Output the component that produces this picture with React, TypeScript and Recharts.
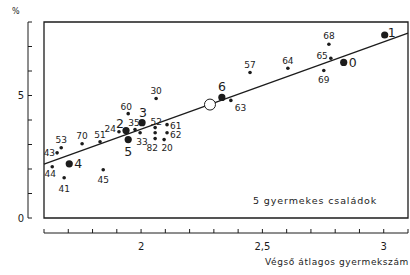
import React from "react";
import {
  ScatterChart,
  Scatter,
  XAxis,
  YAxis,
  ReferenceArea,
  ReferenceLine,
} from "recharts";

// numbered strata (big dots)
const bigNames = ["0", "1", "2", "3", "4", "5", "6"];
const bigX = [2.835, 3.004, 1.938, 2.004, 1.704, 1.947, 2.333];
const bigY = [6.35, 7.47, 3.57, 3.89, 2.21, 3.2, 4.92];

// individual regions (small dots)
const smallNames = [
  "68", "65", "69", "57", "64", "63", "30", "60", "35", "24", "33", "52",
  "", "82", "61", "62", "20", "51", "70", "53", "43", "44", "41", "45",
];
const smallX = [
  2.774, 2.782, 2.753, 2.449, 2.605, 2.37, 2.062, 1.947, 1.975, 1.909, 1.996, 2.058,
  2.058, 2.058, 2.107, 2.107, 2.095, 1.831, 1.757, 1.671, 1.654, 1.634, 1.683, 1.844,
];
const smallY = [
  7.09, 6.52, 6.02, 5.94, 6.11, 4.8, 4.88, 4.26, 3.61, 3.52, 3.48, 3.69,
  3.48, 3.24, 3.81, 3.48, 3.2, 3.11, 3.03, 2.87, 2.66, 2.09, 1.64, 1.97,
];

// overall mean (open circle)
const meanX = [2.284];
const meanY = [4.63];

// regression line end points
const trendX = [1.6, 3.1];
const trendY = [2.2, 7.55];

const xTicks = [1.6, 1.7, 1.8, 1.9, 2, 2.1, 2.2, 2.3, 2.4, 2.5, 2.6, 2.7, 2.8, 2.9, 3, 3.1];
const xTickLabels: Record<string, string> = { "2": "2", "2.5": "2,5", "3": "3" };
const yTicks = [0, 1, 2, 3, 4, 5, 6, 7, 8];
const yTickLabels: Record<string, string> = { "0": "0", "5": "5" };

const bigData = bigNames.map((name, i) => ({ name, x: bigX[i], y: bigY[i] }));
const smallData = smallNames.map((name, i) => ({ name, x: smallX[i], y: smallY[i] }));
const meanData = meanX.map((x, i) => ({ x, y: meanY[i] }));

// where each label sits relative to its dot: [dx, dy(baseline), anchor]
const labelPlace: Record<string, [number, number, "start" | "middle" | "end"]> = {
  "0": [5, 5, "start"],
  "1": [3, 2, "start"],
  "2": [-2, -3, "end"],
  "3": [1, -6, "middle"],
  "4": [5, 4, "start"],
  "5": [0, 16, "middle"],
  "6": [0, -6, "middle"],
  "68": [0, -5, "middle"],
  "65": [-3, 1, "end"],
  "69": [0, 12, "middle"],
  "57": [0, -4, "middle"],
  "64": [0, -4, "middle"],
  "63": [4, 11, "start"],
  "30": [0, -4, "middle"],
  "60": [-2, -4, "middle"],
  "35": [-1, -4, "middle"],
  "24": [-3, 0, "end"],
  "33": [2, 12, "middle"],
  "52": [1, -3, "middle"],
  "82": [-3, 12, "middle"],
  "61": [3, 4, "start"],
  "62": [3, 5, "start"],
  "20": [3, 11, "middle"],
  "51": [0, -4, "middle"],
  "70": [0, -5, "middle"],
  "53": [0, -5, "middle"],
  "43": [-2, 3, "end"],
  "44": [-2, 10, "middle"],
  "41": [0, 14, "middle"],
  "45": [0, 13, "middle"],
};

const INK = "#1c1c1c";
const FONT = "'DejaVu Sans', sans-serif";

const makeDot = (r: number, fontSize: number) => (props: any) => {
  const { cx, cy, payload } = props;
  const place = labelPlace[payload.name];
  return (
    <g>
      <circle cx={cx} cy={cy} r={r} fill={INK} />
      {payload.name && place && (
        <text
          x={cx + place[0]}
          y={cy + place[1]}
          textAnchor={place[2]}
          fontSize={fontSize}
          fontFamily={FONT}
          fill={INK}
        >
          {payload.name}
        </text>
      )}
    </g>
  );
};

const OpenCircle = (props: any) => (
  <circle cx={props.cx} cy={props.cy} r={5.5} fill="#fff" stroke={INK} strokeWidth={1} />
);

const XTick = (props: any) => {
  const { x, y, payload } = props;
  const label = xTickLabels[String(payload.value)];
  return (
    <g>
      <line x1={x} x2={x} y1={y + 11} y2={y + 15} stroke={INK} />
      {label && (
        <text x={x} y={y + 32} textAnchor="middle" fontSize={10} fontFamily={FONT} fill={INK}>
          {label}
        </text>
      )}
    </g>
  );
};

const YTick = (props: any) => {
  const { x, y, payload } = props;
  const label = yTickLabels[String(payload.value)];
  return (
    <g>
      <line x1={x - 16} x2={x - 12} y1={y} y2={y} stroke={INK} />
      {label && (
        <text x={x - 20} y={y + 3.5} textAnchor="end" fontSize={10} fontFamily={FONT} fill={INK}>
          {label}
        </text>
      )}
    </g>
  );
};

export default function App() {
  return (
    <div style={{ position: "absolute", left: 0, top: 0, width: 410, height: 275, background: "#fff" }}>
      <ScatterChart width={410} height={275} margin={{ top: 22, right: 2, bottom: 17, left: 0 }}>
        <XAxis
          type="number"
          dataKey="x"
          domain={[1.6, 3.1]}
          ticks={xTicks}
          interval={0}
          height={40}
          tickSize={0}
          tickMargin={0}
          tickLine={false}
          axisLine={{ stroke: INK, transform: "translate(0,15)" }}
          tick={<XTick />}
          allowDataOverflow
        />
        <YAxis
          type="number"
          dataKey="y"
          domain={[0, 8]}
          ticks={yTicks}
          interval={0}
          width={44}
          tickSize={0}
          tickMargin={0}
          tickLine={false}
          axisLine={{ stroke: INK, transform: "translate(-16,0)" }}
          tick={<YTick />}
          allowDataOverflow
        />
        <ReferenceArea
          x1={1.6}
          x2={3.1}
          y1={0}
          y2={8}
          fill="none"
          fillOpacity={0}
          stroke={INK}
          strokeWidth={1.3}
        />
        <ReferenceLine
          segment={[
            { x: trendX[0], y: trendY[0] },
            { x: trendX[1], y: trendY[1] },
          ]}
          stroke={INK}
          strokeWidth={1.3}
        />
        <Scatter data={smallData} shape={makeDot(1.8, 9)} isAnimationActive={false} />
        <Scatter data={meanData} shape={OpenCircle} isAnimationActive={false} />
        <Scatter data={bigData} shape={makeDot(3.6, 12.5)} isAnimationActive={false} />
      </ScatterChart>
      <svg
        width={410}
        height={275}
        style={{ position: "absolute", left: 0, top: 0, pointerEvents: "none" }}
      >
        <text x={12} y={14} fontSize={8} fontFamily={FONT} fill={INK}>
          %
        </text>
        <text x={253} y={204} fontSize={9.5} letterSpacing={0.9} fontFamily={FONT} fill={INK}>
          5 gyermekes családok
        </text>
        <text x={265} y={265} fontSize={9} letterSpacing={0.6} fontFamily={FONT} fill={INK}>
          Végső átlagos gyermekszám
        </text>
      </svg>
    </div>
  );
}
